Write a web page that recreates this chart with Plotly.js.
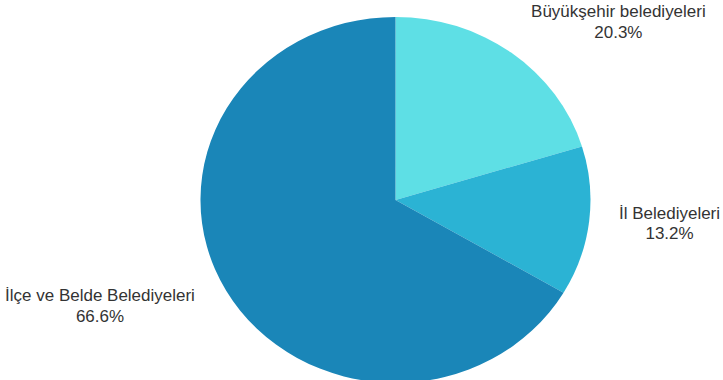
<!DOCTYPE html>
<html>
<head>
<meta charset="utf-8">
<script src="https://cdn.plot.ly/plotly-3.0.1.min.js"></script>
<style>
html,body{margin:0;padding:0;overflow:hidden;background:#fff;width:723px;height:380px;}
#chart{width:723px;height:420px;transform:scaleY(0.9385);transform-origin:0 0;}
</style>
</head>
<body>
<div id="chart"></div>
<script>
const categories = ["Büyükşehir belediyeleri", "İl Belediyeleri", "İlçe ve Belde Belediyeleri"];
const shares = [20.3, 13.2, 66.6];
const colors = ["#5EDFE5", "#2BB3D4", "#1A86B8"];

// label placement (paper coordinates)
const labelX = [0.856, 0.9265, 0.1383];
const labelY = [0.9429, 0.4317, 0.2224];

const trace = {
  type: "pie",
  labels: categories,
  values: shares,
  sort: false,
  direction: "clockwise",
  rotation: 0,
  marker: {colors: colors, line: {width: 0}},
  textinfo: "none",
  automargin: false,
  domain: {x: [0.2, 0.894], y: [0.02857, 0.95714]},
  hoverinfo: "label+percent",
  showlegend: false
};

const annotations = categories.map((c, i) => ({
  xref: "paper", yref: "paper",
  x: labelX[i], y: labelY[i],
  xanchor: "center", yanchor: "middle",
  text: c + "<br>" + shares[i].toFixed(1) + "%",
  showarrow: false,
  align: "center",
  font: {family: "Liberation Sans, Arial, sans-serif", size: 17, color: "#333333"}
}));

const layout = {
  width: 723,
  height: 420,
  margin: {l: 0, r: 0, t: 0, b: 0},
  paper_bgcolor: "#ffffff",
  showlegend: false,
  annotations: annotations
};

Plotly.newPlot("chart", [trace], layout, {displayModeBar: false, staticPlot: true});
</script>
</body>
</html>
